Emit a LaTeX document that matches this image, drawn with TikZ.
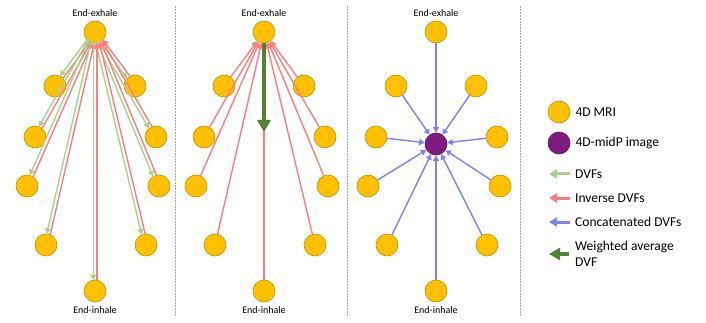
\documentclass[tikz,border=0pt]{standalone}
\usepackage{fontspec}
\setmainfont{Carlito}
\usetikzlibrary{arrows.meta,calc,positioning}
\definecolor{mriFill}{HTML}{FFC000}
\definecolor{mriDraw}{HTML}{C09000}
\definecolor{midpFill}{HTML}{7E1C80}
\definecolor{midpDraw}{HTML}{5E1060}
\definecolor{dvfGreen}{HTML}{A9D18E}
\definecolor{invRed}{HTML}{FF7C80}
\definecolor{catBlue}{HTML}{7F7FFF}
\definecolor{avgGreen}{HTML}{548235}
\definecolor{sepGray}{HTML}{A6A6A6}

\begin{document}
\begin{tikzpicture}[
    x=1pt, y=-1pt,
    mri/.style={circle, draw=mriDraw, fill=mriFill, line width=0.6pt,
                minimum size=22pt, inner sep=0pt},
    midp/.style={circle, draw=midpDraw, fill=midpFill, line width=0.6pt,
                 minimum size=22pt, inner sep=0pt},
    thinarrow/.style={-{Triangle[length=5.5pt,width=6pt]}, line width=1.4pt, color=#1},
    dvf/.style={thinarrow=dvfGreen},
    invdvf/.style={thinarrow=invRed},
    cdvf/.style={thinarrow=catBlue},
    wavg/.style={-{Triangle[length=12pt,width=13pt]}, line width=4pt, color=avgGreen},
    keyarrow/.style={-{Triangle[length=8pt,width=9pt]}, line width=3pt, color=#1},
    lbl/.style={font=\fontsize{10}{12}\selectfont, inner sep=1pt},
    keytxt/.style={font=\fontsize{13.5}{16}\selectfont, anchor=west, align=left, inner sep=0pt},
    sep/.style={sepGray, line width=0.5pt, densely dotted}
]
    \useasboundingbox (0,0) rectangle (706,323);

    % --- panel dividers ---
    \foreach \sx in {175,347,520}
        \draw[sep] (\sx,6) coordinate (s\sx) -- (\sx,316);

    % --- 4D MRI phases, one ring per panel ---
    \foreach \p/\cx in {a/95, b/264, c/436} {
        \foreach \n/\dx/\y in {t/0/32, l1/-40/86, r1/40/86, l2/-60/137, r2/61/137,
                               l3/-68/186, r3/64/186, l4/-49/245, r4/51/245, b/0/291}
            \node[mri] (\p-\n) at ({\cx+\dx},\y) {};
        \node[lbl, above=2.5pt of \p-t] (\p-ex) {End-exhale};
        \node[lbl, below=3pt of \p-b] (\p-in) {End-inhale};
    }

    % --- panel 1: DVFs and inverse DVFs ---
    \foreach \n in {l1,r1,l2,r2,l3,r3,l4,r4,b} {
        \draw[dvf, shorten <=10pt, shorten >=11pt]
            ($(a-t)!1.8pt!-90:(a-\n)$) -- ($(a-\n)!1.8pt!90:(a-t)$);
        \draw[invdvf, shorten <=11pt, shorten >=11pt]
            ($(a-\n)!1.8pt!-90:(a-t)$) -- ($(a-t)!1.8pt!90:(a-\n)$);
    }

    % --- panel 2: inverse DVFs and weighted average ---
    \foreach \n in {l1,r1,l2,r2,l3,r3,l4,r4,b}
        \draw[invdvf] (b-\n) -- (b-t);
    \coordinate (b-w) at (264,132);
    \draw[wavg] (b-t) -- (b-w);

    % --- panel 3: concatenated DVFs ---
    \node[midp] (c-m) at (436,144) {};
    \foreach \n in {t,l1,r1,l2,r2,l3,r3,l4,r4,b}
        \draw[cdvf] (c-\n) -- (c-m);

    % --- legend ---
    \node[mri] (k-mri) at (559,112) {};
    \node[keytxt, right=5pt of k-mri] (t-mri) {4D MRI};
    \node[midp] (k-midp) at (559,143) {};
    \node[keytxt, right=5pt of k-midp] (t-midp) {4D-midP image};

    \node[keytxt] (t-dvf) at (575,174) {DVFs};
    \node[keytxt] (t-inv) at (575,198) {Inverse DVFs};
    \node[keytxt] (t-cat) at (575,222) {Concatenated DVFs};
    \node[keytxt] (t-avg) at (575,254) {Weighted average\\DVF};

    \coordinate (e-dvf) at (549,174);
    \coordinate (e-inv) at (549,198);
    \coordinate (e-cat) at (549,222);
    \coordinate (e-avg) at (549,254);
    \draw[keyarrow=dvfGreen] ([xshift=-5pt]t-dvf.west) -- (e-dvf);
    \draw[keyarrow=invRed] ([xshift=-5pt]t-inv.west) -- (e-inv);
    \draw[keyarrow=catBlue] ([xshift=-5pt]t-cat.west) -- (e-cat);
    \draw[-{Triangle[length=11pt,width=12pt]}, line width=4pt, avgGreen]
        ([xshift=-6pt]t-avg.west) -- (e-avg);
\end{tikzpicture}
\end{document}
